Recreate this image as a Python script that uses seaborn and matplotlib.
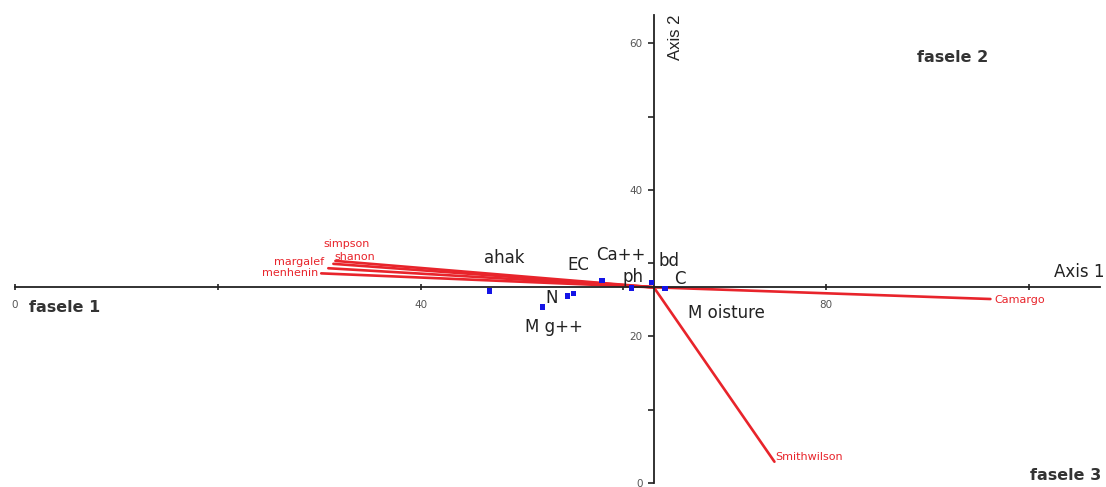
import pandas as pd
import seaborn as sns
import matplotlib.pyplot as plt

# ordination centre (where the two axes cross)
origin_x = 63.0
origin_y = 26.7

# species arrows (end points)
species = ['menhenin', 'margalef', 'shanon', 'simpson', 'Camargo', 'Smithwilson']
species_x = [30.2, 30.9, 31.4, 31.6, 96.2, 74.9]
species_y = [28.6, 29.3, 29.9, 30.3, 25.1, 2.9]

# environmental variables (points)
env_names = ['ahak', 'M g++', 'N', 'EC', 'Ca++', 'ph', 'bd', 'C']
env_x = [46.8, 52.0, 54.5, 55.1, 57.9, 60.8, 62.8, 64.1]
env_y = [26.2, 24.0, 25.5, 25.9, 27.6, 26.6, 27.3, 26.5]

x_ticks = [0, 20, 40, 60, 80, 100]
x_ticklabels = ['0', '', '40', '', '80', '']
y_ticks = [0, 10, 20, 30, 40, 50, 60]
y_ticklabels = ['0', '', '20', '', '40', '', '60']

sns.set_style('white')
plt.rcParams['font.family'] = ['DejaVu Sans']

fig = plt.figure(figsize=(11.06, 4.87), dpi=100)
ax = fig.add_axes([0, 0, 1, 1])

# arrows as line segments from the centre
rows = []
for name, ex, ey in zip(species, species_x, species_y):
    rows.append({'sp': name, 'step': 0, 'x': origin_x, 'y': origin_y})
    rows.append({'sp': name, 'step': 1, 'x': ex, 'y': ey})
arrows = pd.DataFrame(rows)
sns.lineplot(data=arrows, x='x', y='y', units='sp', estimator=None, sort=False,
             color='#e8242b', linewidth=1.9, ax=ax)

env = pd.DataFrame({'name': env_names, 'x': env_x, 'y': env_y})
sns.scatterplot(data=env, x='x', y='y', marker='s', s=14, color='#1414e6',
                edgecolor='none', ax=ax, zorder=5)

# red species labels
sp_style = {
    'menhenin': (-3, 0, 'right'),
    'margalef': (-4, 6, 'right'),
    'shanon': (1, 7, 'left'),
    'simpson': (-12, 17, 'left'),
    'Camargo': (4, -1, 'left'),
    'Smithwilson': (1, 5, 'left'),
}
for name, ex, ey in zip(species, species_x, species_y):
    dx, dy, ha = sp_style[name]
    ax.annotate(name, (ex, ey), xytext=(dx, dy), textcoords='offset pixels',
                ha=ha, va='center', fontsize=8, color='#e8242b')

# black env labels (offsets in pixels from their point)
env_off = {
    'ahak': (15, 33), 'M g++': (12, -20), 'N': (-16, -2), 'EC': (5, 28),
    'Ca++': (19, 26), 'ph': (2, 11), 'bd': (17, 22), 'C': (15, 10),
}
for name, ex, ey in zip(env_names, env_x, env_y):
    dx, dy = env_off[name]
    ax.annotate(name, (ex, ey), xytext=(dx, dy), textcoords='offset pixels',
                ha='center', va='center', fontsize=12, color='#222222')
ax.annotate('M oisture', (env_x[-1], env_y[-1]), xytext=(61, -24),
            textcoords='offset pixels', ha='center', va='center',
            fontsize=12, color='#222222')

# axes through the centre
ax.set_xlim(-1.48, 107.6)
ax.set_ylim(-0.55, 65.9)
for s in ['top', 'right']:
    ax.spines[s].set_visible(False)
ax.spines['left'].set_position(('data', origin_x))
ax.spines['bottom'].set_position(('data', origin_y))
ax.spines['left'].set_bounds(0, 63.8)
ax.spines['bottom'].set_bounds(0, 107)
for s in ['left', 'bottom']:
    ax.spines[s].set_color('#222222')
    ax.spines[s].set_linewidth(1.3)

ax.set_xticks(x_ticks)
ax.set_xticklabels(x_ticklabels)
ax.set_yticks(y_ticks)
ax.set_yticklabels(y_ticklabels)
ax.tick_params(axis='x', bottom=True, direction='inout', length=5, width=1.2,
               pad=7, labelsize=7.5, labelcolor='#555555', color='#222222')
ax.tick_params(axis='y', left=True, direction='out', length=4, width=1.2,
               pad=4, labelsize=7.5, labelcolor='#555555', color='#222222')
ax.set_xlabel('')
ax.set_ylabel('')

fig.text(1079 / 1106, 1 - 272 / 487, 'Axis 1', ha='center', va='center',
         fontsize=12, color='#222222')
fig.text(676 / 1106, 1 - 37 / 487, 'Axis 2', ha='center', va='center',
         rotation=90, fontsize=12, color='#222222', family='Liberation Sans')

for label, px, py in [('fasele 1', 65, 307), ('fasele 2', 953, 57),
                      ('fasele 3', 1066, 476)]:
    fig.text(px / 1106, 1 - py / 487, label, ha='center', va='center',
             fontsize=11.5, fontweight='bold', color='#333333')

fig.savefig('out.png', dpi=100)
